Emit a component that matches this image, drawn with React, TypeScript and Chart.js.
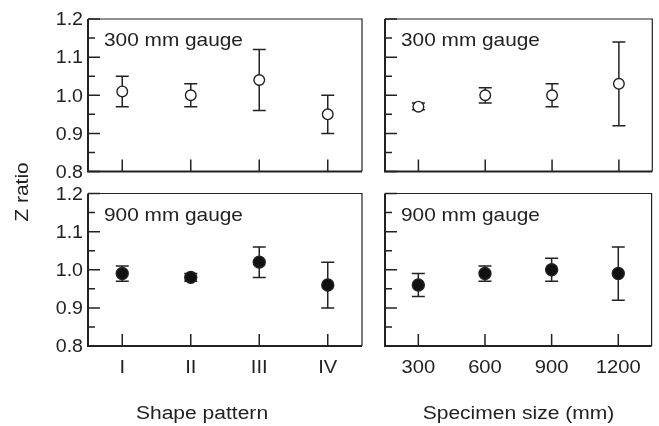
import React, { useEffect, useRef } from "react";
import { Chart, registerables } from "chart.js";

Chart.register(...registerables);

const W = 659;
const H = 426;
const INK = "#222222";
const FONT = "'Liberation Sans', Arial, Helvetica, sans-serif";
const STRETCH = 1.12;

// ---- data ----
const shapeCategories = ["I", "II", "III", "IV"];
const shapePositions = [1, 2, 3, 4];
const specimenSizes = [300, 600, 900, 1200];
const specimenLabels = ["300", "600", "900", "1200"];
const yTickValues = [0.8, 0.9, 1.0, 1.1, 1.2];
const yMinorTickValues = [0.85, 0.95, 1.05, 1.15];

const shape300Mean = [1.01, 1.0, 1.04, 0.95];
const shape300Low = [0.97, 0.97, 0.96, 0.9];
const shape300High = [1.05, 1.03, 1.12, 1.0];

const size300Mean = [0.97, 1.0, 1.0, 1.03];
const size300Low = [0.962, 0.98, 0.97, 0.92];
const size300High = [0.98, 1.02, 1.03, 1.14];

const shape900Mean = [0.99, 0.98, 1.02, 0.96];
const shape900Low = [0.97, 0.97, 0.98, 0.9];
const shape900High = [1.01, 0.99, 1.06, 1.02];

const size900Mean = [0.96, 0.99, 1.0, 0.99];
const size900Low = [0.93, 0.97, 0.97, 0.92];
const size900High = [0.99, 1.01, 1.03, 1.06];

const gaugeLabels = ["300 mm gauge", "900 mm gauge"];
const xTitles = ["Shape pattern", "Specimen size (mm)"];
const yTitle = "Z ratio";

type PanelCfg = {
  xs: number[];
  xLabels: string[];
  xMin: number;
  xMax: number;
  mean: number[];
  low: number[];
  high: number[];
  label: string;
  filled: boolean;
  showY: boolean;
  showX: boolean;
  xTitle?: string;
  xTitleCenter?: number;
  drawYTitle?: boolean;
  area: { l: number; t: number; r: number; b: number };
};

const panels: PanelCfg[] = [
  {
    xs: shapePositions, xLabels: shapeCategories, xMin: 0.5, xMax: 4.5,
    mean: shape300Mean, low: shape300Low, high: shape300High,
    label: gaugeLabels[0], filled: false, showY: true, showX: false, drawYTitle: true,
    area: { l: 88, t: 19, r: 362, b: 171.5 },
  },
  {
    xs: specimenSizes, xLabels: specimenLabels, xMin: 150, xMax: 1350,
    mean: size300Mean, low: size300Low, high: size300High,
    label: gaugeLabels[0], filled: false, showY: false, showX: false,
    area: { l: 385, t: 19, r: 657, b: 171.5 },
  },
  {
    xs: shapePositions, xLabels: shapeCategories, xMin: 0.5, xMax: 4.5,
    mean: shape900Mean, low: shape900Low, high: shape900High,
    label: gaugeLabels[1], filled: true, showY: true, showX: true,
    xTitle: xTitles[0], xTitleCenter: 202,
    area: { l: 88, t: 193.5, r: 362, b: 346 },
  },
  {
    xs: specimenSizes, xLabels: specimenLabels, xMin: 150, xMax: 1350,
    mean: size900Mean, low: size900Low, high: size900High,
    label: gaugeLabels[1], filled: true, showY: false, showX: true,
    xTitle: xTitles[1], xTitleCenter: 518.5,
    area: { l: 385, t: 193.5, r: 657, b: 346 },
  },
];

function drawText(
  ctx: CanvasRenderingContext2D,
  text: string,
  x: number,
  y: number,
  size: number,
  align: CanvasTextAlign
) {
  ctx.save();
  ctx.font = `${size}px ${FONT}`;
  ctx.fillStyle = INK;
  ctx.textAlign = align;
  ctx.textBaseline = "alphabetic";
  ctx.translate(x, y);
  ctx.scale(STRETCH, 1);
  ctx.fillText(text, 0, 0);
  ctx.restore();
}

function makePlugin(p: PanelCfg) {
  return {
    id: "panelDecor",
    beforeDatasetsDraw(chart: any) {
      const ctx = chart.ctx;
      const xs = chart.scales.x;
      const ys = chart.scales.y;
      ctx.save();
      ctx.strokeStyle = INK;
      ctx.lineWidth = 1.5;
      p.xs.forEach((xv, i) => {
        const x = xs.getPixelForValue(xv);
        const yl = ys.getPixelForValue(p.low[i]);
        const yh = ys.getPixelForValue(p.high[i]);
        ctx.beginPath();
        ctx.moveTo(x, yl);
        ctx.lineTo(x, yh);
        ctx.moveTo(x - 6.5, yl);
        ctx.lineTo(x + 6.5, yl);
        ctx.moveTo(x - 6.5, yh);
        ctx.lineTo(x + 6.5, yh);
        ctx.stroke();
      });
      ctx.restore();
    },
    afterDraw(chart: any) {
      const ctx = chart.ctx;
      const a = chart.chartArea;
      const xs = chart.scales.x;
      const ys = chart.scales.y;
      ctx.save();
      ctx.strokeStyle = INK;
      // top & right borders
      ctx.lineWidth = 1.2;
      ctx.beginPath();
      ctx.moveTo(a.left, a.top);
      ctx.lineTo(a.right, a.top);
      ctx.lineTo(a.right, a.bottom);
      ctx.stroke();
      // left & bottom borders
      ctx.lineWidth = 2;
      ctx.beginPath();
      ctx.moveTo(a.left, a.top);
      ctx.lineTo(a.left, a.bottom);
      ctx.lineTo(a.right, a.bottom);
      ctx.stroke();
      // inward ticks
      ctx.lineWidth = 1.5;
      ctx.beginPath();
      yTickValues.forEach((v) => {
        const y = ys.getPixelForValue(v);
        ctx.moveTo(a.left, y);
        ctx.lineTo(a.left + 12, y);
      });
      yMinorTickValues.forEach((v) => {
        const y = ys.getPixelForValue(v);
        ctx.moveTo(a.left, y);
        ctx.lineTo(a.left + 7, y);
      });
      p.xs.forEach((v) => {
        const x = xs.getPixelForValue(v);
        ctx.moveTo(x, a.bottom);
        ctx.lineTo(x, a.bottom - 12);
      });
      ctx.stroke();
      ctx.restore();

      // y tick labels
      if (p.showY) {
        const size = 17.5;
        ys.ticks.forEach((t: any, i: number) => {
          const y = ys.getPixelForTick(i);
          drawText(ctx, Number(t.value).toFixed(1), a.left - 5, y + size * 0.358, size, "right");
        });
      }
      // x tick labels
      if (p.showX) {
        xs.ticks.forEach((_t: any, i: number) => {
          const x = xs.getPixelForTick(i);
          drawText(ctx, p.xLabels[i], x, 373, 18, "center");
        });
      }
      // x title
      if (p.xTitle) {
        drawText(ctx, p.xTitle, p.xTitleCenter || (a.left + a.right) / 2, 418.5, 18.8, "center");
      }
      // gauge label
      drawText(ctx, p.label, a.left + 16, a.top + 27, 18.6, "left");
      // y title
      if (p.drawYTitle) {
        ctx.save();
        ctx.translate(21, 192);
        ctx.rotate(-Math.PI / 2);
        ctx.font = `18.8px ${FONT}`;
        ctx.fillStyle = INK;
        ctx.textAlign = "center";
        ctx.textBaseline = "alphabetic";
        ctx.scale(STRETCH, 1);
        ctx.fillText(yTitle, 0, 18.8 * 0.358);
        ctx.restore();
      }
    },
  };
}

function buildConfig(p: PanelCfg): any {
  const yWidth = p.showY ? p.area.l : 0;
  const xHeight = p.showX ? H - p.area.b : 0;
  return {
    type: "scatter",
    data: {
      datasets: [
        {
          data: p.xs.map((x, i) => ({ x, y: p.mean[i] })),
          showLine: false,
          pointRadius: p.filled ? 6 : 5.3,
          pointHoverRadius: p.filled ? 6 : 5.3,
          pointBorderWidth: 1.4,
          pointBackgroundColor: p.filled ? "#111111" : "#ffffff",
          pointBorderColor: INK,
        },
      ],
    },
    options: {
      animation: false,
      responsive: false,
      events: [],
      layout: {
        padding: {
          left: p.showY ? 0 : p.area.l,
          top: p.area.t,
          right: W - p.area.r,
          bottom: p.showX ? 0 : H - p.area.b,
        },
      },
      plugins: { legend: { display: false }, tooltip: { enabled: false } },
      scales: {
        x: {
          type: "linear",
          min: p.xMin,
          max: p.xMax,
          display: p.showX,
          grid: { display: false, drawTicks: false },
          border: { display: false },
          ticks: {
            display: false,
            autoSkip: false,
            maxRotation: 0,
            callback: (_v: any, i: number) => p.xLabels[i],
          },
          afterBuildTicks: (s: any) => {
            s.ticks = p.xs.map((v) => ({ value: v }));
          },
          afterFit: (s: any) => {
            s.height = xHeight;
          },
        },
        y: {
          type: "linear",
          min: 0.8,
          max: 1.2,
          display: p.showY,
          grid: { display: false, drawTicks: false },
          border: { display: false },
          ticks: {
            display: false,
            callback: (v: any) => Number(v).toFixed(1),
          },
          afterBuildTicks: (s: any) => {
            s.ticks = yTickValues.map((v) => ({ value: v }));
          },
          afterFit: (s: any) => {
            s.width = yWidth;
          },
        },
      },
    },
    plugins: [makePlugin(p)],
  };
}

function Panel({ cfg }: { cfg: PanelCfg }) {
  const ref = useRef<HTMLCanvasElement | null>(null);
  useEffect(() => {
    if (!ref.current) return;
    const chart = new Chart(ref.current, buildConfig(cfg));
    return () => chart.destroy();
  }, [cfg]);
  return (
    <canvas
      ref={ref}
      width={W}
      height={H}
      style={{ position: "absolute", left: 0, top: 0, width: W, height: H }}
    />
  );
}

export default function App() {
  return (
    <div
      style={{
        position: "fixed",
        left: 0,
        top: 0,
        width: W,
        height: H,
        background: "#ffffff",
        overflow: "hidden",
      }}
    >
      {panels.map((p, i) => (
        <Panel key={i} cfg={p} />
      ))}
    </div>
  );
}
